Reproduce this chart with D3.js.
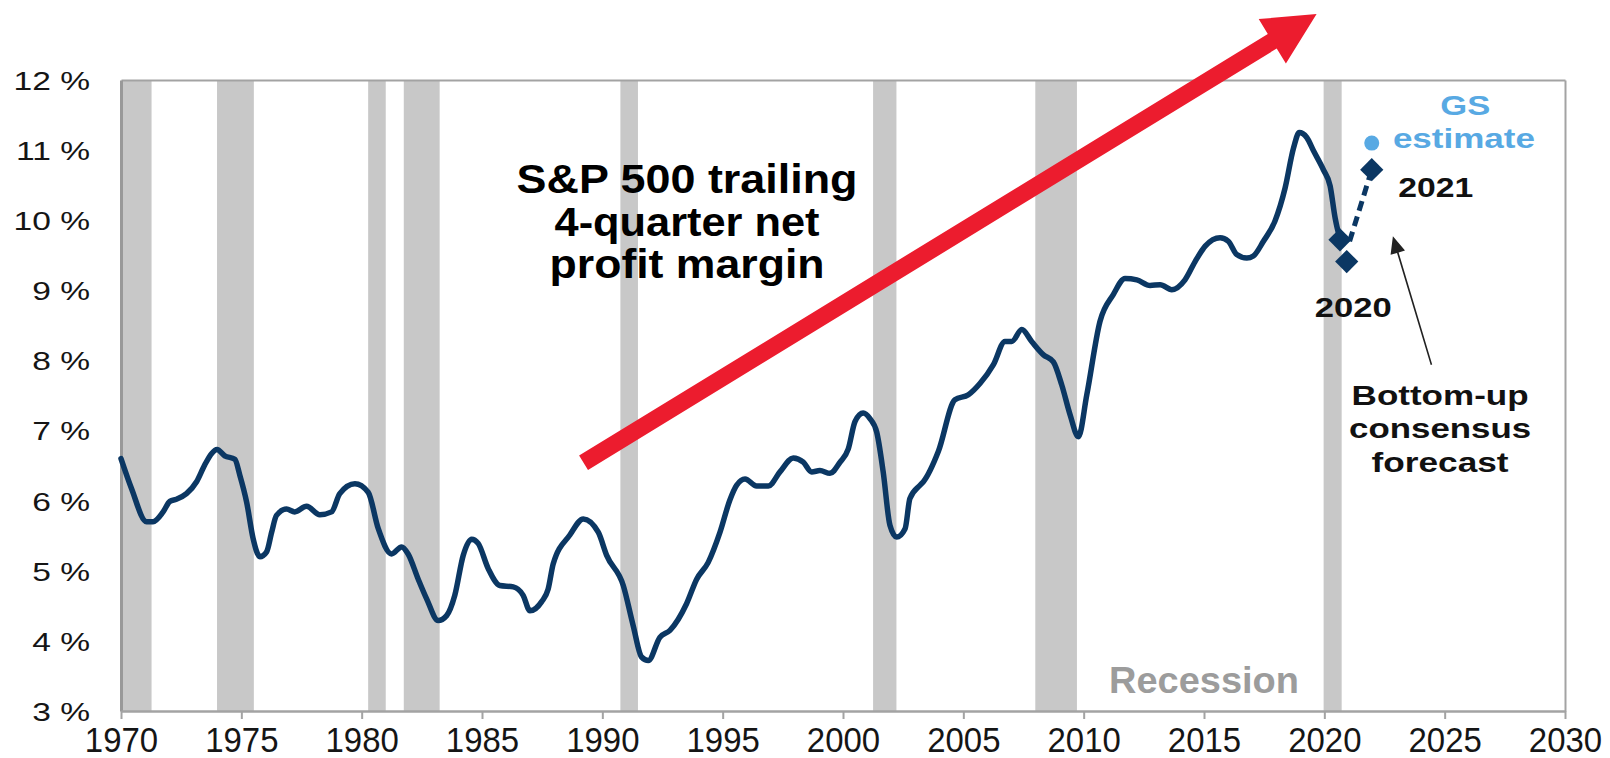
<!DOCTYPE html>
<html><head><meta charset="utf-8">
<script src="https://cdn.jsdelivr.net/npm/d3@7"></script>
<style>
body{margin:0;background:#fff}
svg{display:block}
text{font-family:"Liberation Sans",Arial,Helvetica,sans-serif}
</style>
</head><body>
<svg id="chart" width="1610" height="758"></svg>
<script>
// ---------------- data ----------------
const marginYears = [1970.0,1970.44,1971.06,1971.33,1971.75,1972.03,1972.3,1972.72,1973.14,1973.48,1973.76,1973.99,1974.31,1974.73,1974.94,1975.22,1975.49,1975.77,1976.05,1976.26,1976.46,1976.88,1977.22,1977.71,1978.26,1978.75,1979.09,1979.72,1980.27,1980.69,1981.24,1981.66,1981.93,1982.35,1982.7,1983.18,1983.53,1983.87,1984.22,1984.57,1984.84,1985.26,1985.74,1986.3,1986.71,1986.99,1987.48,1987.75,1987.96,1988.65,1989.21,1989.83,1990.18,1990.87,1991.28,1991.63,1991.91,1992.39,1992.81,1993.5,1993.92,1994.4,1994.89,1995.3,1995.58,1995.93,1996.41,1996.9,1997.38,1997.93,1998.35,1998.7,1999.04,1999.46,1999.88,2000.22,2000.5,2000.84,2001.12,2001.4,2001.67,2001.95,2002.23,2002.58,2002.78,2003.2,2003.34,2003.96,2004.65,2005.21,2005.69,2006.25,2006.73,2007.01,2007.43,2007.84,2008.33,2008.74,2009.09,2009.44,2009.78,2010.13,2010.68,2011.23,2011.72,2012.21,2012.76,2013.18,2013.66,2014.21,2014.63,2015.05,2015.67,2016.01,2016.36,2016.78,2017.05,2017.47,2017.95,2018.37,2018.72,2018.96,2019.27,2019.55,2019.96,2020.24,2020.45,2020.59,2020.75,2020.95];
const marginValues = [6.60,6.17,5.70,5.70,5.84,5.99,6.02,6.10,6.27,6.51,6.67,6.73,6.64,6.59,6.36,5.98,5.46,5.20,5.27,5.55,5.79,5.88,5.84,5.92,5.80,5.84,6.10,6.24,6.12,5.60,5.24,5.34,5.24,4.88,4.60,4.29,4.36,4.65,5.22,5.45,5.39,5.03,4.79,4.77,4.65,4.43,4.56,4.74,5.10,5.51,5.74,5.55,5.22,4.79,4.22,3.77,3.72,4.05,4.15,4.53,4.88,5.12,5.55,6.01,6.22,6.31,6.21,6.21,6.41,6.61,6.55,6.41,6.43,6.39,6.55,6.74,7.13,7.25,7.17,6.98,6.41,5.65,5.48,5.60,6.03,6.22,6.27,6.70,7.44,7.51,7.67,7.94,8.27,8.27,8.44,8.27,8.08,7.98,7.65,7.22,6.91,7.51,8.56,8.94,9.17,9.15,9.07,9.08,9.01,9.15,9.41,9.63,9.75,9.70,9.51,9.46,9.49,9.70,9.99,10.46,11.03,11.25,11.18,10.99,10.72,10.49,10.03,9.82,9.74,9.72];

const recessionStart = [1970.03, 1973.99, 1980.27, 1981.75, 1990.75, 2001.25, 2007.99, 2019.97];
const recessionEnd   = [1971.27, 1975.52, 1981.00, 1983.24, 1991.48, 2002.22, 2009.72, 2020.72];

const consensusYears  = [2020.65, 2020.93, 2021.97];
const consensusValues = [9.72, 9.41, 10.72];
const dashedYears  = [2021.05, 2021.97];
const dashedValues = [9.70, 10.72];
const gsYears  = [2021.97];
const gsValues = [11.10];

const yTickValues = [3,4,5,6,7,8,9,10,11,12];
const yTickLabels = ["3 %","4 %","5 %","6 %","7 %","8 %","9 %","10 %","11 %","12 %"];
const xTickValues = [1970,1975,1980,1985,1990,1995,2000,2005,2010,2015,2020,2025,2030];
const xTickLabels = ["1970","1975","1980","1985","1990","1995","2000","2005","2010","2015","2020","2025","2030"];

const titleLines = ["S&P 500 trailing","4-quarter net","profit margin"];
const forecastNoteLines = ["Bottom-up","consensus","forecast"];

// ---------------- layout ----------------
const W = 1610, H = 758;
const plot = {left:121, right:1565, top:80, bottom:711};
const navy = "#0b3763", grey = "#c8c8c8", axisGrey = "#a3a3a3", red = "#ec1c2e", gsBlue = "#58a9e3";

const svg = d3.select("#chart");
svg.append("rect").attr("width",W).attr("height",H).attr("fill","#fff");

const x = d3.scaleLinear().domain([1970,2030]).range([plot.left, plot.right]);
const y = d3.scaleLinear().domain([3,12]).range([plot.bottom, plot.top]);

// recession bands
const bands = recessionStart.map((s,i)=>({s, e:recessionEnd[i]}));
svg.append("g").selectAll("rect").data(bands).join("rect")
  .attr("x", d=>x(d.s)).attr("width", d=>x(d.e)-x(d.s))
  .attr("y", plot.top).attr("height", plot.bottom-plot.top)
  .attr("fill", grey);

// frame: top & right
svg.append("g").attr("transform",`translate(0,${plot.top})`)
  .call(d3.axisTop(x).tickValues([]).tickSizeOuter(0))
  .call(g=>g.select(".domain").attr("stroke",axisGrey).attr("stroke-width",2));
svg.append("g").attr("transform",`translate(${plot.right},0)`)
  .call(d3.axisRight(y).tickValues([]).tickSizeOuter(0))
  .call(g=>g.select(".domain").attr("stroke",axisGrey).attr("stroke-width",2));

// left axis
const yAxis = svg.append("g").attr("transform",`translate(${plot.left},0)`)
  .call(d3.axisLeft(y).tickValues(yTickValues).tickFormat((d,i)=>yTickLabels[i]).tickSize(0).tickSizeOuter(0));
yAxis.select(".domain").attr("stroke","#999").attr("stroke-width",3);
yAxis.selectAll("text")
  .attr("x",null).attr("dy","0.36em")
  .attr("transform","translate(-31,0) scale(1.29,1)")
  .attr("text-anchor","end")
  .attr("font-size",26).attr("fill","#151515");

// bottom axis
const xAxis = svg.append("g").attr("transform",`translate(0,${plot.bottom})`)
  .call(d3.axisBottom(x).tickValues(xTickValues).tickFormat((d,i)=>xTickLabels[i]).tickSize(8).tickSizeOuter(0).tickPadding(0));
xAxis.select(".domain").attr("stroke",axisGrey).attr("stroke-width",2.5);
xAxis.selectAll(".tick line").attr("stroke",axisGrey).attr("stroke-width",2);
xAxis.selectAll("text")
  .attr("y",null).attr("dy",null)
  .attr("transform","translate(0,41) scale(0.915,1)")
  .attr("font-size",36).attr("fill","#151515");

// red trend arrow (annotation, in data units)
const trendArrow = {from:[1989.22, 6.54], to:[2019.68, 12.94]};
function arrowPath(p0, p1, shaftW, headL, headW){
  const dx=p1[0]-p0[0], dy=p1[1]-p0[1], L=Math.hypot(dx,dy);
  const ux=dx/L, uy=dy/L, nx=-uy, ny=ux;
  const bx=p1[0]-ux*headL, by=p1[1]-uy*headL;
  const pts=[
    [p0[0]+nx*shaftW/2, p0[1]+ny*shaftW/2],
    [bx+nx*shaftW/2, by+ny*shaftW/2],
    [bx+nx*headW/2, by+ny*headW/2],
    [p1[0],p1[1]],
    [bx-nx*headW/2, by-ny*headW/2],
    [bx-nx*shaftW/2, by-ny*shaftW/2],
    [p0[0]-nx*shaftW/2, p0[1]-ny*shaftW/2]];
  return "M"+pts.map(p=>p[0].toFixed(1)+","+p[1].toFixed(1)).join("L")+"Z";
}

// main line
const series = marginYears.map((yr,i)=>({yr, v:marginValues[i]}));
const line = d3.line().x(d=>x(d.yr)).y(d=>y(d.v)).curve(d3.curveMonotoneX);
svg.append("path").datum(series).attr("d",line)
  .attr("fill","none").attr("stroke",navy).attr("stroke-width",5.5)
  .attr("stroke-linejoin","round").attr("stroke-linecap","round");

// dashed forecast line
const dashed = dashedYears.map((yr,i)=>({yr, v:dashedValues[i]}));
svg.append("path").datum(dashed).attr("d",d3.line().x(d=>x(d.yr)).y(d=>y(d.v)))
  .attr("fill","none").attr("stroke",navy).attr("stroke-width",5).attr("stroke-dasharray","10,6");

// consensus diamonds
const diamonds = consensusYears.map((yr,i)=>({yr, v:consensusValues[i]}));
svg.append("g").selectAll("path").data(diamonds).join("path")
  .attr("d", d3.symbol(d3.symbolSquare, 270))
  .attr("transform", d=>`translate(${x(d.yr)},${y(d.v)}) rotate(45)`)
  .attr("fill", navy);

// GS estimate dot
const gs = gsYears.map((yr,i)=>({yr, v:gsValues[i]}));
svg.append("g").selectAll("circle").data(gs).join("circle")
  .attr("cx", d=>x(d.yr)).attr("cy", d=>y(d.v)).attr("r",7.5).attr("fill",gsBlue);

// red arrow on top
svg.append("path")
  .attr("d", arrowPath([x(trendArrow.from[0]), y(trendArrow.from[1])], [x(trendArrow.to[0]), y(trendArrow.to[1])], 17, 52, 52))
  .attr("fill", red);

// black pointer arrow
const pointer = {from:[2024.45, 7.94], to:[2022.85, 9.77]};
svg.append("path")
  .attr("d", arrowPath([x(pointer.from[0]), y(pointer.from[1])], [x(pointer.to[0]), y(pointer.to[1])], 1.6, 17, 15))
  .attr("fill", "#222");

// ---------------- text annotations ----------------
function label(txt, xv, yv, size, opts){
  const t = svg.append("text").text(txt)
    .attr("x", x(xv)).attr("y", y(yv))
    .attr("text-anchor","middle")
    .attr("font-size", size)
    .attr("font-weight", opts.bold ? "bold" : "normal")
    .attr("fill", opts.color || "#000");
  if (opts.width) t.attr("textLength", opts.width).attr("lengthAdjust","spacingAndGlyphs");
  return t;
}
const titleBase = [10.388, 9.775, 9.176];
const titleWidths = [341, 265, 275];
titleLines.forEach((s,i)=>label(s, 1993.52, titleBase[i], 41, {bold:true, width:titleWidths[i]}));

label("Recession", 2015.0, 3.257, 36, {bold:true, color:"#9c9c9c", width:190});
label("GS", 2025.86, 11.50, 28, {bold:true, color:gsBlue, width:50});
label("estimate", 2025.8, 11.026, 28, {bold:true, color:gsBlue, width:142});
label("2021", 2024.63, 10.336, 28, {bold:true, color:"#111", width:75});
label("2020", 2021.2, 8.624, 28, {bold:true, color:"#111", width:77});
const noteBase = [7.365, 6.89, 6.413];
const noteWidths = [177, 182, 137];
forecastNoteLines.forEach((s,i)=>label(s, 2024.81, noteBase[i], 28, {bold:true, color:"#111", width:noteWidths[i]}));
</script>
</body></html>
